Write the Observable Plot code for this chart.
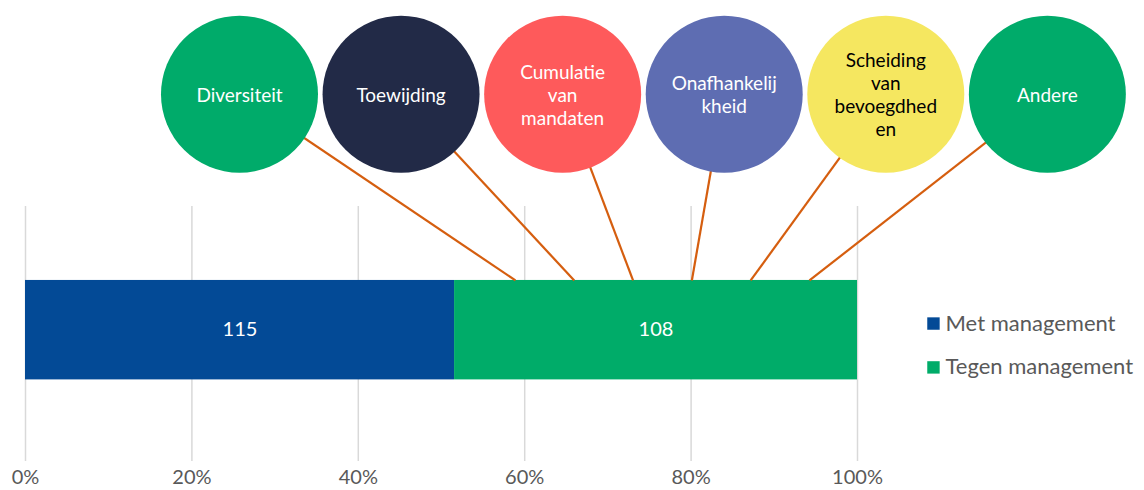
<!DOCTYPE html>
<html>
<head>
<meta charset="utf-8">
<script src="https://cdn.jsdelivr.net/npm/d3@7"></script>
<script src="https://cdn.jsdelivr.net/npm/@observablehq/plot@0.6"></script>
<style>
  html, body { margin: 0; padding: 0; background: #fff; }
  #chart svg { display: block; }
</style>
</head>
<body>
<div id="chart"></div>
<script>
// ---- data ----
const categories = ["Met management", "Tegen management"];
const values = [115, 108];
const tickValues = [0, 0.2, 0.4, 0.6, 0.8, 1];
const tickLabels = ["0%", "20%", "40%", "60%", "80%", "100%"];
const themes = ["Diversiteit", "Toewijding", "Cumulatie\nvan\nmandaten", "Onafhankelij\nkheid", "Scheiding\nvan\nbevoegdhed\nen", "Andere"];

// ---- styles / layout ----
const barColors = ["#034A96", "#00AC69"];
const themeFill = ["#00AB6A", "#222A47", "#FE5A5B", "#5E6DB2", "#F5E760", "#00AB6A"];
const themeText = ["#fff", "#fff", "#fff", "#fff", "#000", "#fff"];
const FONT = "Lato, 'Open Sans', sans-serif";
const bar = {y1: 0.32, y2: 0.71, mid: 0.516};
const circleX = i => 0.2572 + i * 0.1942;
const circleY = 1.44;
const anchorX = i => 0.5889 + i * 0.07067;
const legend = {xBox: 1.0913, xText: 1.1058, y: [0.541, 0.369]};

const data = categories.map((c, i) => ({category: c, value: values[i], color: barColors[i]}));
const themeData = themes.map((t, i) => ({label: t, i}));

const chart = Plot.plot({
  width: 1144,
  height: 490,
  marginLeft: 25,
  marginRight: 287,
  marginTop: 206,
  marginBottom: 29,
  style: {fontFamily: FONT, background: "#fff"},
  x: {domain: [0, 1], label: null},
  y: {domain: [0, 1], axis: null},
  color: {type: "identity"},
  marks: [
    Plot.ruleX(tickValues, {stroke: "#D9D9D9", strokeWidth: 1.5}),
    Plot.axisX({
      ticks: tickValues,
      tickFormat: (d, i) => tickLabels[i],
      tickSize: 0,
      tickPadding: 8,
      fontSize: 20,
      fill: "#595959",
      label: null
    }),
    Plot.rectX(data, Plot.stackX({
      x: "value",
      y1: bar.y1,
      y2: bar.y2,
      fill: "color",
      offset: "normalize"
    })),
    Plot.text(data, Plot.stackX({
      x: "value",
      y: bar.mid,
      text: d => String(d.value),
      offset: "normalize",
      fill: "#fff",
      fontSize: 20
    })),
    Plot.link(themeData, {
      x1: d => circleX(d.i),
      y1: circleY,
      x2: d => anchorX(d.i),
      y2: bar.y2,
      stroke: "#D55E0F",
      strokeWidth: 2.2
    }),
    Plot.dot(themeData, {
      x: d => circleX(d.i),
      y: circleY,
      r: 78.5,
      fill: d => themeFill[d.i],
      stroke: "none"
    }),
    Plot.text(themeData, {
      x: d => circleX(d.i),
      y: circleY,
      text: "label",
      fill: d => themeText[d.i],
      fontSize: 19,
      lineHeight: 1.22
    }),
    Plot.dot(data, {
      x: legend.xBox,
      y: (d, i) => legend.y[i],
      symbol: "square",
      r: 7,
      fill: "color"
    }),
    Plot.text(data, {
      x: legend.xText,
      y: (d, i) => legend.y[i],
      text: "category",
      textAnchor: "start",
      fill: "#595959",
      fontSize: 22
    })
  ]
});
document.getElementById("chart").appendChild(chart);
</script>
</body>
</html>
